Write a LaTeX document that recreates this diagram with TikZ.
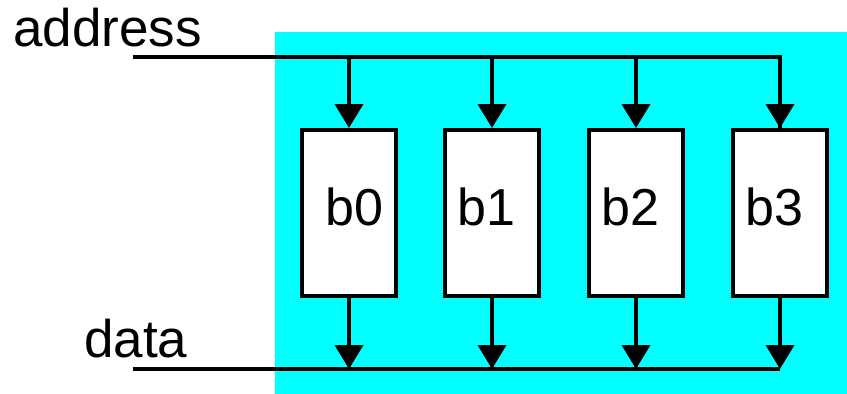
\documentclass[tikz,border=0pt]{standalone}
\usepackage{fontspec}
\setmainfont{Liberation Sans}
\usetikzlibrary{arrows.meta}
\definecolor{bgcyan}{RGB}{0,255,255}
\begin{document}
\begin{tikzpicture}[x=1pt,y=-1pt,
  bank/.style={draw=black,fill=white,line width=4pt,minimum width=94pt,minimum height=166pt,inner sep=0pt},
  banktext/.style={anchor=base west,inner sep=0pt,font=\fontsize{52}{52}\selectfont},
  wire/.style={line width=4pt},
  arr/.style={line width=4pt,-{Triangle[width=28pt,length=24pt]}},
  lbl/.style={anchor=base west,inner sep=0pt,font=\fontsize{53}{53}\selectfont}]
\useasboundingbox (0,0) rectangle (847,394);
\fill[bgcyan] (275,32) rectangle (847,394);
\node[bank] (b0) at (349,213) {};
\node[bank] (b1) at (492,213) {};
\node[bank] (b2) at (636,213) {};
\node[bank] (b3) at (780,213) {};
\foreach \b/\dx in {b0/-23.5,b1/-35,b2/-35,b3/-35}{
  \node[banktext] (t\b) at ([xshift=\dx pt,yshift=-12pt]\b.center) {\b};
}
\node[lbl] (addr) at (13,46) {address};
\node[lbl] (data) at (84,357) {data};
\coordinate (as) at (133,57);
\coordinate (ds) at (133,369);
\draw[wire] (as) -- (as -| b3.north) -- ([yshift=-2pt]b3.north);
\draw[wire] (ds) -- (ds -| b3.south);
\foreach \b in {b0,b1,b2,b3}{
  \draw[arr] (as -| \b.north) -- (\b.north);
  \draw[arr] (\b.south) -- (ds -| \b.south);
}
\end{tikzpicture}
\end{document}
